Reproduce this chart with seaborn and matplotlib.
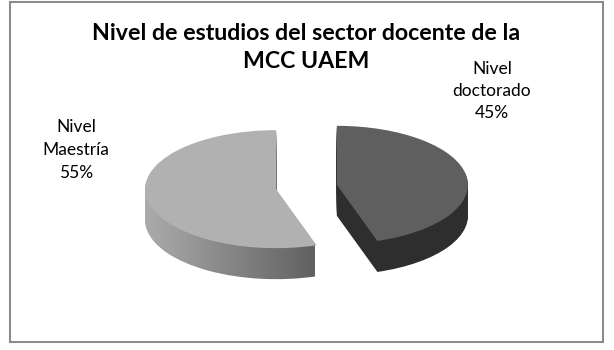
import numpy as np
import matplotlib
matplotlib.use("Agg")
import matplotlib.pyplot as plt
from matplotlib.patches import Rectangle
import seaborn as sns

# ---- data ----
title_lines = ["Nivel de estudios del sector docente de la", "MCC UAEM"]
categories = ["Nivel doctorado", "Nivel Maestría"]
values = [45, 55]

# ---- style ----
sns.set_theme(style="white")
plt.rcParams["font.family"] = ["Lato", "DejaVu Sans"]

top_colors = ["#5f5f5f", "#b1b1b1"]
side_dark = "#2e2e2e"

W, H = 614, 350
fig = plt.figure(figsize=(W / 100, H / 100), dpi=100)
fig.patch.set_facecolor("white")
ax = fig.add_axes([0, 0, 1, 1])

# geometry in pixels
cx, cy = 306.5, 187.0   # pie centre (from left / from top)
rx, ry = 131.0, 59.0    # ellipse radii
thick = 31              # thickness in px
explode = [0.235, 0.235]

xlim = (-cx / rx, (W - cx) / rx)
ylim = (-(H - cy) / ry, cy / ry)

def px_x(p):
    return (p - cx) / rx

# gradient for the Maestría side
gx0, gx1 = px_x(140), px_x(315)
grad = np.linspace(0.68, 0.38, 200)
img = np.dstack([grad, grad, grad]).repeat(2, axis=0)

# side layers
for k in range(thick, 0, -1):
    off = -k / ry
    wedges, _ = ax.pie(values, colors=[side_dark, "none"], startangle=90,
                       counterclock=False, explode=explode, radius=1,
                       center=(0, off), frame=True,
                       wedgeprops=dict(linewidth=0, antialiased=True))
    mw = wedges[1]
    im = ax.imshow(img, extent=(gx0, gx1, off - 1.5, off + 1.5),
                   aspect="auto", interpolation="bilinear", zorder=1)
    im.set_clip_path(mw)

# top faces
wedges, _ = ax.pie(values, colors=top_colors, startangle=90,
                   counterclock=False, explode=explode, radius=1,
                   center=(0, 0), frame=True,
                   wedgeprops=dict(linewidth=0, antialiased=True))
for w in wedges:
    w.set_zorder(3)

ax.set_aspect("auto")
ax.set_xlim(*xlim)
ax.set_ylim(*ylim)
ax.axis("off")

# labels
def lab(i):
    return categories[i].replace(" ", "\n", 1) + f"\n{values[i]}%"

fig.text(492 / W, 1 - 91 / H, lab(0), ha="center", va="center",
         fontsize=12.5, color="#000000", linespacing=1.5)
fig.text(76 / W, 1 - 150 / H, lab(1), ha="center", va="center",
         fontsize=12.5, color="#000000", linespacing=1.5)

# title (two lines)
for line, ypix in zip(title_lines, [34, 61]):
    fig.text(306 / W, 1 - ypix / H, line, ha="center", va="center",
             fontsize=16.7, fontweight="bold", color="#000000")

# chart border
fig.patches.append(Rectangle((10 / W, 1 - 342 / H), 593 / W, 340 / H,
                             transform=fig.transFigure, fill=False,
                             edgecolor="#8c8c8c", linewidth=1.5))

fig.savefig("out.png", dpi=100, facecolor="white")
